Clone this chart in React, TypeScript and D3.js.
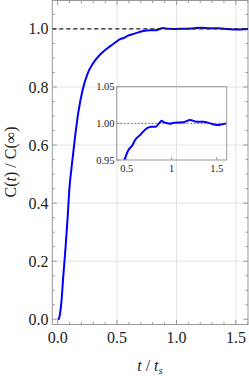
import React from 'react';
import * as d3 from 'd3';

// C(t)/C(inf)
const tValues = [0, 0.01, 0.02, 0.033, 0.047, 0.067, 0.084, 0.098, 0.118, 0.137, 0.173, 0.21, 0.249, 0.3, 0.356, 0.44, 0.49, 0.518, 0.563, 0.592, 0.648, 0.722, 0.778, 0.822, 0.859, 0.889, 0.907, 0.94, 0.981, 1.02, 1.056, 1.13, 1.204, 1.278, 1.352, 1.426, 1.5, 1.556, 1.604];
const cValues = [0, 0.002, 0.02, 0.066, 0.146, 0.25, 0.35, 0.445, 0.526, 0.595, 0.71, 0.79, 0.843, 0.883, 0.911, 0.94, 0.955, 0.9634, 0.970, 0.977, 0.984, 0.9932, 0.9954, 0.9954, 1.0, 1.0036, 1.002, 1.0005, 0.9995, 1.0008, 1.001, 1.0014, 1.0045, 1.0023, 1.0023, 1.0, 0.9977, 0.9986, 1.0];

const xMajor = [0, 0.5, 1.0, 1.5];
const yMajor = [0, 0.2, 0.4, 0.6, 0.8, 1.0];
const insetXTicks = [0.5, 1, 1.5];
const insetXLabels = ['0.5', '1', '1.5'];
const insetYTicks = [0.95, 1.0, 1.05];

const W = 249, H = 376;
const frame = '#999';
const font = "'Liberation Serif', Tinos, 'Noto Serif', 'DejaVu Serif', 'Nimbus Roman', 'FreeSerif', serif";

export default function App() {
  const x = d3.scaleLinear().domain([-0.045, 1.602]).range([52.3, 248]);
  const y = d3.scaleLinear().domain([-0.018, 1.098]).range([324.5, 0.5]);

  const xMinor = d3.range(0, 1.61, 0.1).filter(v => !xMajor.some(m => Math.abs(m - v) < 1e-6));
  const yMinor = d3.range(0, 1.1, 0.05).filter(v => !yMajor.some(m => Math.abs(m - v) < 1e-6));

  const pts = tValues.map((t, i) => [t, cValues[i]] as [number, number]);
  const line = d3.line<[number, number]>().x(d => x(d[0])).y(d => y(d[1])).curve(d3.curveMonotoneX);

  // inset
  const ix = d3.scaleLinear().domain([0.389, 1.611]).range([116.7, 226.7]);
  const iy = d3.scaleLinear().domain([0.95, 1.05]).range([160, 86.7]);
  const iline = d3.line<[number, number]>().x(d => ix(d[0])).y(d => iy(d[1])).curve(d3.curveMonotoneX);
  const insetPts = pts.filter(d => d[0] >= 0.4);

  const [x0, x1] = x.range();
  const [y0, y1] = y.range();

  const txt = { fontFamily: font, fill: '#222' } as React.CSSProperties;

  return (
    <div style={{ position: 'fixed', left: 0, top: 0 }}>
      <svg width={W} height={H} style={{ display: 'block', background: '#fff' }}>
        <defs>
          <clipPath id="mainClip"><rect x={x0} y={y1} width={x1 - x0} height={y0 - y1} /></clipPath>
          <clipPath id="insetClip"><rect x={116.7} y={86.7} width={110} height={73.3} /></clipPath>
        </defs>

        {/* grid */}
        {xMajor.filter(v => v > 0).map(v => (
          <line key={'gx' + v} x1={x(v)} x2={x(v)} y1={y1} y2={y0} stroke="#e3e3e3" strokeWidth={1} />
        ))}
        {yMajor.filter(v => v > 0).map(v => (
          <line key={'gy' + v} x1={x0} x2={x1} y1={y(v)} y2={y(v)} stroke="#e3e3e3" strokeWidth={1} />
        ))}

        {/* frame */}
        <rect x={x0} y={y1} width={x1 - x0} height={y0 - y1} fill="none" stroke={frame} strokeWidth={1} />

        {/* ticks */}
        {xMajor.map(v => (
          <g key={'tx' + v}>
            <line x1={x(v)} x2={x(v)} y1={y0} y2={y0 - 4.5} stroke={frame} />
            <line x1={x(v)} x2={x(v)} y1={y1} y2={y1 + 4.5} stroke={frame} />
            <text x={x(v)} y={343} textAnchor="middle" style={{ ...txt, fontSize: 16 }}>{v.toFixed(1)}</text>
          </g>
        ))}
        {xMinor.map(v => (
          <g key={'mx' + v}>
            <line x1={x(v)} x2={x(v)} y1={y0} y2={y0 - 2.5} stroke={frame} />
            <line x1={x(v)} x2={x(v)} y1={y1} y2={y1 + 2.5} stroke={frame} />
          </g>
        ))}
        {yMajor.map(v => (
          <g key={'ty' + v}>
            <line x1={x0} x2={x0 + 4.5} y1={y(v)} y2={y(v)} stroke={frame} />
            <line x1={x1} x2={x1 - 4.5} y1={y(v)} y2={y(v)} stroke={frame} />
            <text x={48.5} y={y(v) + 5.5} textAnchor="end" style={{ ...txt, fontSize: 16 }}>{v.toFixed(1)}</text>
          </g>
        ))}
        {yMinor.map(v => (
          <g key={'my' + v}>
            <line x1={x0} x2={x0 + 2.5} y1={y(v)} y2={y(v)} stroke={frame} />
            <line x1={x1} x2={x1 - 2.5} y1={y(v)} y2={y(v)} stroke={frame} />
          </g>
        ))}

        {/* main curve */}
        <g clipPath="url(#mainClip)">
          <path d={line(pts) ?? ''} fill="none" stroke="#0000ff" strokeWidth={2} />
          <line x1={x0} x2={x1} y1={y(1)} y2={y(1)} stroke="#222" strokeWidth={1.2} strokeDasharray="4,3" />
        </g>

        {/* inset */}
        <g>
          <line x1={116.7} x2={226.7} y1={iy(1)} y2={iy(1)} stroke="#555" strokeWidth={0.8} strokeDasharray="2,1.5" />
          <g clipPath="url(#insetClip)">
            <path d={iline(insetPts) ?? ''} fill="none" stroke="#0000ff" strokeWidth={2} />
          </g>
          <rect x={116.7} y={86.7} width={110} height={73.3} fill="none" stroke={frame} strokeWidth={1} />
          {insetXTicks.map((v, i) => (
            <g key={'ix' + v}>
              <line x1={ix(v)} x2={ix(v)} y1={160} y2={157} stroke={frame} />
              <text x={ix(v)} y={172} textAnchor="middle" style={{ ...txt, fontSize: 10.5 }}>{insetXLabels[i]}</text>
            </g>
          ))}
          {insetYTicks.map(v => (
            <g key={'iy' + v}>
              <line x1={116.7} x2={119.7} y1={iy(v)} y2={iy(v)} stroke={frame} />
              <text x={114.5} y={iy(v) + 3.5} textAnchor="end" style={{ ...txt, fontSize: 10.5 }}>{v.toFixed(2)}</text>
            </g>
          ))}
        </g>

        {/* axis labels */}
        <text transform="translate(16,162) rotate(-90)" textAnchor="middle" style={{ ...txt, fontSize: 16 }}>
          C(<tspan fontStyle="italic">t</tspan>) / C(∞)
        </text>
        <text x={150} y={371} textAnchor="middle" style={{ ...txt, fontSize: 16 }}>
          <tspan fontStyle="italic">t</tspan> / <tspan fontStyle="italic">t</tspan>
          <tspan fontStyle="italic" fontSize={11} dy={3}>s</tspan>
        </text>
      </svg>
    </div>
  );
}
